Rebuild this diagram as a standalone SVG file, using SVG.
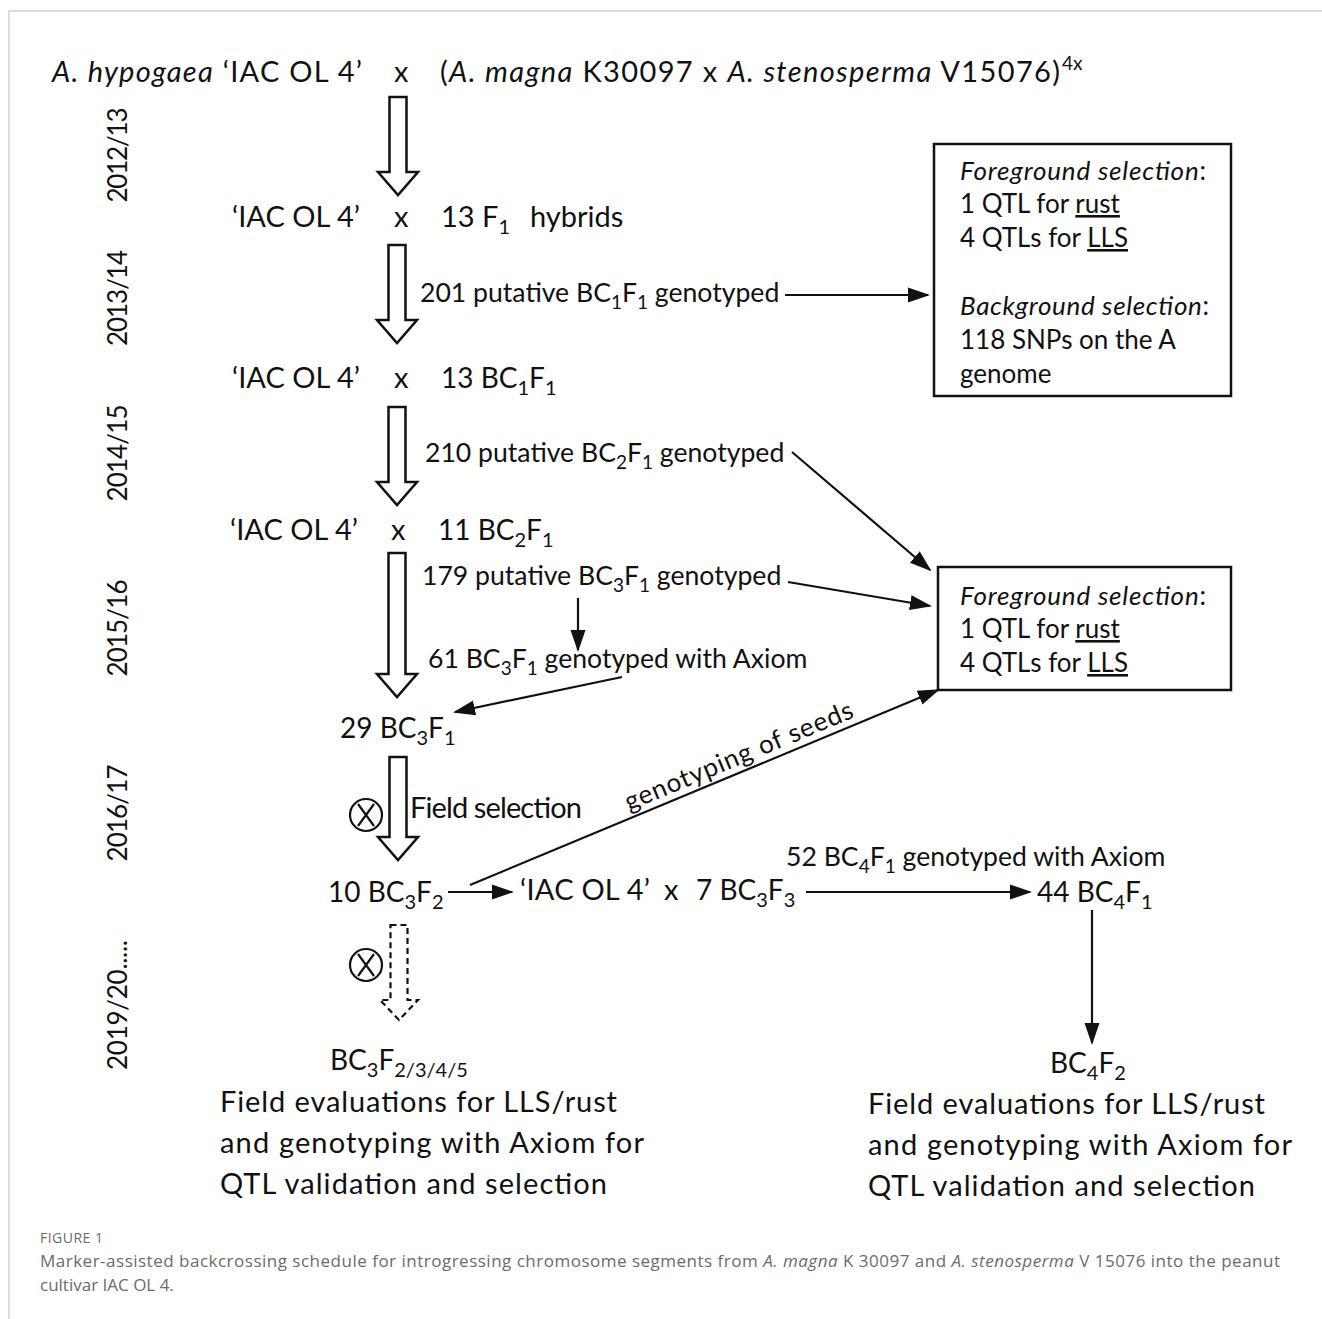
<svg xmlns="http://www.w3.org/2000/svg" width="1322" height="1319" viewBox="0 0 1322 1319">
<defs>
<style>
.t{font-family:Lato,"Open Sans",sans-serif;font-size:29px;fill:#111}
.g{font-family:Lato,"Open Sans",sans-serif;font-size:28px;fill:#111}
.l{font-family:Lato,"Open Sans",sans-serif;font-size:26.6px;fill:#111}
.b{font-family:Lato,"Open Sans",sans-serif;font-size:26px;fill:#111}
.y{font-family:Lato,"Open Sans",sans-serif;font-size:26px;fill:#111;text-anchor:middle}
.s{font-size:20px}
.l .s{font-size:19px}
.i{font-style:italic}
.u{text-decoration:underline}
.hollow{fill:#fff;stroke:#111;stroke-width:2.5;stroke-linejoin:miter}
.dash{fill:#fff;stroke:#111;stroke-width:2.2;stroke-dasharray:6 4}
.ln{stroke:#111;stroke-width:2.2;fill:none}
.box{fill:#fff;stroke:#111;stroke-width:2.5}
.cap{font-family:"Open Sans",sans-serif;fill:#6b6b6b}
</style>
<marker id="ah" markerUnits="userSpaceOnUse" markerWidth="22" markerHeight="18" viewBox="0 0 22 18" refX="20" refY="9" orient="auto">
<path d="M0,1.5 L22,9 L0,16.5 Z" fill="#111"/>
</marker>
</defs>
<rect width="1322" height="1319" fill="#fff"/>
<path d="M9,1319 V11 H1322" fill="none" stroke="#d0d0d0" stroke-width="1.5"/>

<g id="years">
<text class="y" transform="translate(127,155) rotate(-90)" textLength="95">2012/13</text>
<text class="y" transform="translate(127,298) rotate(-90)" textLength="96">2013/14</text>
<text class="y" transform="translate(127,453) rotate(-90)" textLength="97">2014/15</text>
<text class="y" transform="translate(127,628) rotate(-90)" textLength="97">2015/16</text>
<text class="y" transform="translate(127,813) rotate(-90)" textLength="97">2016/17</text>
<text class="y" transform="translate(127,1005) rotate(-90)" textLength="130">2019/20.....</text>
</g>

<g id="cross0">
<text class="t" x="52" y="82" textLength="310"><tspan class="i">A. hypogaea</tspan> ‘IAC OL 4’</text>
<text class="t" x="394" y="82">x</text>
<text class="t" x="440" y="82" textLength="620">(<tspan class="i">A. magna</tspan> K30097 x <tspan class="i">A. stenosperma</tspan> V15076)</text>
<text class="t" x="1062" y="70" style="font-size:19px">4x</text>
</g>

<g id="cross1">
<text class="t" x="232" y="227" textLength="128">‘IAC OL 4’</text>
<text class="t" x="394" y="227">x</text>
<text class="t" x="441" y="227">13 F<tspan class="s" dy="7">1</tspan></text>
<text class="t" x="530" y="227">hybrids</text>
</g>

<g id="geno1">
<text class="l" x="420" y="302">201 putative BC<tspan class="s" dy="7">1</tspan><tspan dy="-7">F</tspan><tspan class="s" dy="7">1</tspan><tspan dy="-7"> genotyped</tspan></text>
</g>

<g id="box1">
<rect class="box" x="934" y="144" width="297" height="252"/>
<text class="b" x="960" y="180" textLength="246"><tspan class="i">Foreground selection</tspan>:</text>
<text class="b" x="960" y="213">1 QTL for <tspan class="u">rust</tspan></text>
<text class="b" x="960" y="247">4 QTLs for <tspan class="u">LLS</tspan></text>
<text class="b" x="960" y="315" textLength="249"><tspan class="i">Background selection</tspan>:</text>
<text class="b" x="960" y="349">118 SNPs on the A</text>
<text class="b" x="960" y="383">genome</text>
</g>

<g id="cross2">
<text class="t" x="232" y="388" textLength="128">‘IAC OL 4’</text>
<text class="t" x="394" y="388">x</text>
<text class="g" x="441" y="388">13 BC<tspan class="s" dy="7">1</tspan><tspan dy="-7">F</tspan><tspan class="s" dy="7">1</tspan></text>
</g>

<g id="geno2">
<text class="l" x="425" y="462">210 putative BC<tspan class="s" dy="7">2</tspan><tspan dy="-7">F</tspan><tspan class="s" dy="7">1</tspan><tspan dy="-7"> genotyped</tspan></text>
</g>

<g id="cross3">
<text class="t" x="230" y="540" textLength="128">‘IAC OL 4’</text>
<text class="t" x="391" y="540">x</text>
<text class="g" x="438" y="540">11 BC<tspan class="s" dy="7">2</tspan><tspan dy="-7">F</tspan><tspan class="s" dy="7">1</tspan></text>
</g>

<g id="geno3">
<text class="l" x="422" y="585">179 putative BC<tspan class="s" dy="7">3</tspan><tspan dy="-7">F</tspan><tspan class="s" dy="7">1</tspan><tspan dy="-7"> genotyped</tspan></text>
</g>

<g id="axiom1">
<text class="l" x="428" y="668">61 BC<tspan class="s" dy="7">3</tspan><tspan dy="-7">F</tspan><tspan class="s" dy="7">1</tspan><tspan dy="-7"> genotyped with Axiom</tspan></text>
</g>

<g id="box2">
<rect class="box" x="938" y="567" width="293" height="123"/>
<text class="b" x="960" y="605" textLength="246"><tspan class="i">Foreground selection</tspan>:</text>
<text class="b" x="960" y="638">1 QTL for <tspan class="u">rust</tspan></text>
<text class="b" x="960" y="672">4 QTLs for <tspan class="u">LLS</tspan></text>
</g>

<g id="sel29">
<text class="g" x="340" y="738">29 BC<tspan class="s" dy="7">3</tspan><tspan dy="-7">F</tspan><tspan class="s" dy="7">1</tspan></text>
</g>

<g id="self1">
<circle cx="366" cy="815" r="16" fill="none" stroke="#111" stroke-width="2.2"/>
<path d="M358,804 L374,826 M374,804 L358,826" class="ln" stroke-width="1.8"/>
<text class="t" x="410" y="818" textLength="172">Field selection</text>
</g>

<g id="f2">
<text class="g" x="328" y="902">10 BC<tspan class="s" dy="7">3</tspan><tspan dy="-7">F</tspan><tspan class="s" dy="7">2</tspan></text>
</g>

<g id="cross4">
<text class="t" x="520" y="900" textLength="130">‘IAC OL 4’</text>
<text class="t" x="664" y="900">x</text>
<text class="g" x="696" y="900">7 BC<tspan class="s" dy="7">3</tspan><tspan dy="-7">F</tspan><tspan class="s" dy="7">3</tspan></text>
</g>

<g id="axiom2">
<text class="l" x="786" y="866">52 BC<tspan class="s" dy="7">4</tspan><tspan dy="-7">F</tspan><tspan class="s" dy="7">1</tspan><tspan dy="-7"> genotyped with Axiom</tspan></text>
</g>

<g id="bc4f1">
<text class="g" x="1037" y="902">44 BC<tspan class="s" dy="7">4</tspan><tspan dy="-7">F</tspan><tspan class="s" dy="7">1</tspan></text>
</g>

<g id="self2">
<circle cx="366" cy="965" r="16" fill="none" stroke="#111" stroke-width="2.2"/>
<path d="M358,954 L374,976 M374,954 L358,976" class="ln" stroke-width="1.8"/>
</g>

<g id="evalLeft">
<text class="g" x="330" y="1070">BC<tspan class="s" dy="7">3</tspan><tspan dy="-7">F</tspan><tspan class="s" dy="7">2/3/4/5</tspan></text>
<text class="t" x="220" y="1112" textLength="397">Field evaluations for LLS/rust</text>
<text class="t" x="220" y="1153" textLength="424">and genotyping with Axiom for</text>
<text class="t" x="220" y="1194" textLength="387">QTL validation and selection</text>
</g>

<g id="evalRight">
<text class="g" x="1050" y="1073">BC<tspan class="s" dy="7">4</tspan><tspan dy="-7">F</tspan><tspan class="s" dy="7">2</tspan></text>
<text class="t" x="868" y="1114" textLength="397">Field evaluations for LLS/rust</text>
<text class="t" x="868" y="1155" textLength="424">and genotyping with Axiom for</text>
<text class="t" x="868" y="1196" textLength="387">QTL validation and selection</text>
</g>

<g id="connectors">
<path class="hollow" d="M389.5,97 H406.5 V172 H418 L398,195 L378,172 H389.5 Z"/>
<path class="hollow" d="M388.5,245 H405.5 V320 H417 L397,343 L377,320 H388.5 Z"/>
<path class="hollow" d="M388.5,407 H405.5 V482 H417 L397,505 L377,482 H388.5 Z"/>
<path class="hollow" d="M388.5,553 H405.5 V674 H417 L397,697 L377,674 H388.5 Z"/>
<path class="hollow" d="M389.5,757 H406.5 V837 H418 L398,860 L378,837 H389.5 Z"/>
<path class="dash" d="M390.5,925 H407.5 V1000 H418 L399,1020 L380,1000 H390.5 Z"/>
<line class="ln" x1="785" y1="295" x2="928" y2="295" marker-end="url(#ah)"/>
<line class="ln" x1="792" y1="452" x2="930" y2="570" marker-end="url(#ah)"/>
<line class="ln" x1="788" y1="582" x2="930" y2="606" marker-end="url(#ah)"/>
<line class="ln" x1="578" y1="598" x2="578" y2="650" marker-end="url(#ah)"/>
<line class="ln" x1="622" y1="677" x2="455" y2="712" marker-end="url(#ah)"/>
<line class="ln" x1="470" y1="885" x2="938" y2="690" marker-end="url(#ah)"/>
<line class="ln" x1="448" y1="892" x2="512" y2="892" marker-end="url(#ah)"/>
<line class="ln" x1="806" y1="892" x2="1030" y2="892" marker-end="url(#ah)"/>
<line class="ln" x1="1092" y1="910" x2="1092" y2="1043" marker-end="url(#ah)"/>
<text class="b" transform="translate(742,764) rotate(-22.6)" text-anchor="middle" textLength="245">genotyping of seeds</text>
</g>

<g id="caption">
<text class="cap" x="40" y="1243" style="font-size:14px" textLength="63">FIGURE 1</text>
<text class="cap" x="40" y="1267" style="font-size:17px" textLength="1240">Marker-assisted backcrossing schedule for introgressing chromosome segments from <tspan font-style="italic">A. magna</tspan> K 30097 and <tspan font-style="italic">A. stenosperma</tspan> V 15076 into the peanut</text>
<text class="cap" x="40" y="1291" style="font-size:17px">cultivar IAC OL 4.</text>
</g>
</svg>
